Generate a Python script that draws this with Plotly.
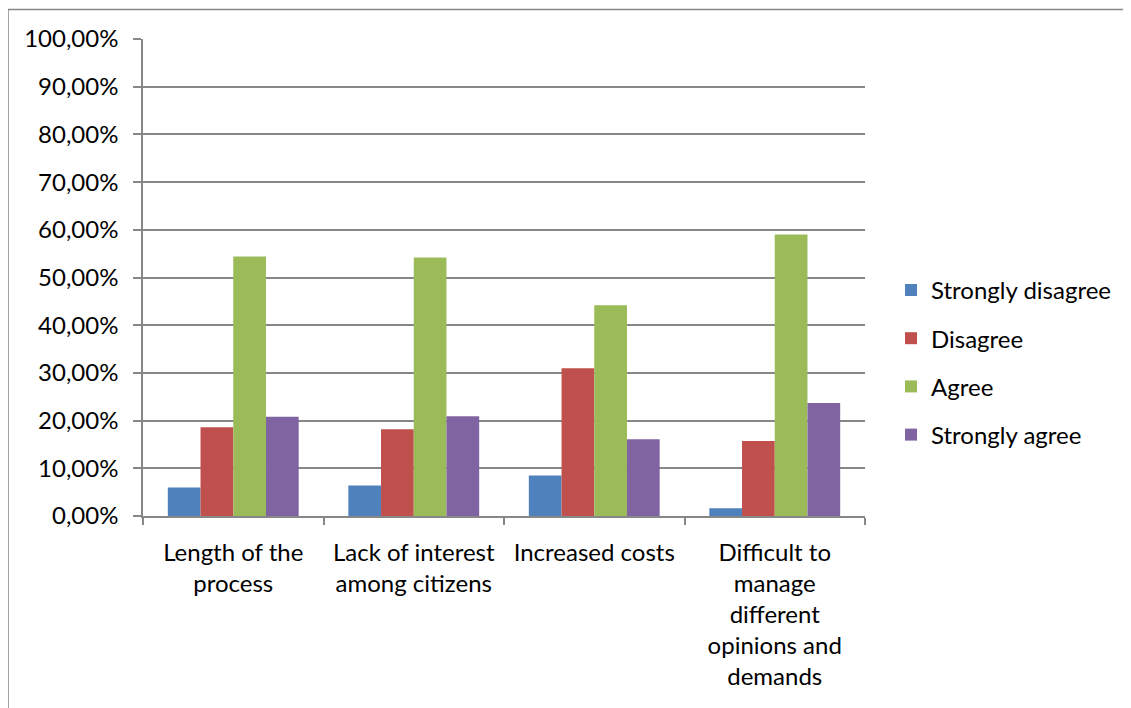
import plotly.graph_objects as go

# Survey answers per obstacle (share of respondents)
categories = ["Length of the process", "Lack of interest among citizens",
              "Increased costs", "Difficult to manage different opinions and demands"]
tick_labels = ["Length of the<br>process", "Lack of interest<br>among citizens",
               "Increased costs", "Difficult to<br>manage<br>different<br>opinions and<br>demands"]

strongly_disagree = [0.060, 0.064, 0.085, 0.016]
disagree = [0.186, 0.182, 0.310, 0.157]
agree = [0.544, 0.542, 0.442, 0.590]
strongly_agree = [0.208, 0.209, 0.161, 0.237]

series = [("Strongly disagree", strongly_disagree, "#4F81BD"),
          ("Disagree", disagree, "#C0504D"),
          ("Agree", agree, "#9BBB59"),
          ("Strongly agree", strongly_agree, "#8064A2")]

fig = go.Figure()
for i, (name, vals, col) in enumerate(series):
    fig.add_trace(go.Bar(x=categories, y=vals, name=name, marker_color=col,
                         marker_line_width=0, legendgroup=str(i)))

FONT = "Lato"
L, T, PW, PH = 135, 31, 722, 477
fig.update_layout(
    width=1123, height=700,
    margin=dict(l=L, r=1123 - L - PW, t=T, b=700 - T - PH),
    paper_bgcolor="white", plot_bgcolor="white",
    barmode="group", bargap=0.275, bargroupgap=0,
    separators=",.",
    font=dict(family=FONT, size=24, color="black"),
    legend=dict(x=1.036, y=0.322, xanchor="left", yanchor="middle",
                tracegroupgap=14, font=dict(size=24), itemwidth=30),
    showlegend=True,
)
fig.update_yaxes(range=[0, 1], dtick=0.1, tickformat=".2%",
                 showgrid=True, gridcolor="#878787", gridwidth=1.5,
                 showline=True, linecolor="#878787", linewidth=1.5,
                 ticks="outside", ticklen=8, tickcolor="#878787", tickwidth=1.5,
                 zeroline=False, ticklabelstandoff=10)
fig.update_xaxes(tickvals=categories, ticktext=tick_labels,
                 showline=True, linecolor="#878787", linewidth=1.5,
                 ticks="outside", ticklen=7, tickcolor="#878787", tickwidth=1.5,
                 tickson="boundaries", ticklabelstandoff=14)

# outer chart border (frame running off the right/bottom of the image)
bx = (0 - L) / PW
by = 1 + (T - 1.5) / PH
fig.add_shape(type="line", xref="paper", yref="paper",
              x0=bx, x1=(1130 - L) / PW, y0=by, y1=by,
              line=dict(color="#868686", width=1.5))
fig.add_shape(type="line", xref="paper", yref="paper",
              x0=bx, x1=bx, y0=by, y1=-250 / PH,
              line=dict(color="#868686", width=1.5))

fig.write_html("out.html")
